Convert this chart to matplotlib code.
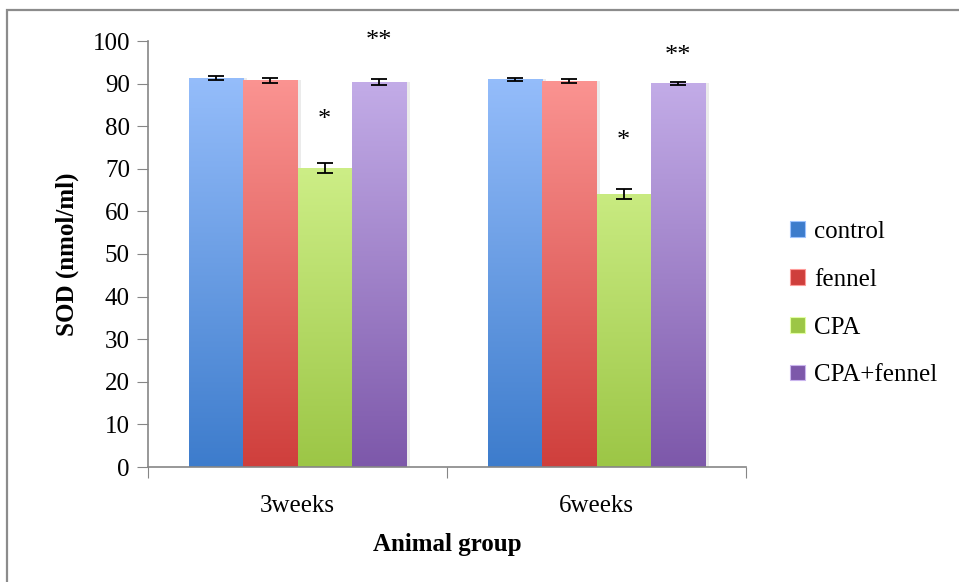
import numpy as np
import matplotlib
matplotlib.use("Agg")
import matplotlib.pyplot as plt
from matplotlib.patches import Rectangle, Patch
from matplotlib.colors import LinearSegmentedColormap

plt.rcParams['font.family'] = ['Liberation Serif', 'DejaVu Serif']

groups = ["3weeks", "6weeks"]
series = ["control", "fennel", "CPA", "CPA+fennel"]
values = {
    "control": [91.3, 91.0],
    "fennel": [90.8, 90.6],
    "CPA": [70.2, 64.1],
    "CPA+fennel": [90.4, 90.1],
}
errors = {
    "control": [0.5, 0.4],
    "fennel": [0.6, 0.5],
    "CPA": [1.2, 1.2],
    "CPA+fennel": [0.7, 0.35],
}
marks = {
    "control": ["", ""],
    "fennel": ["", ""],
    "CPA": ["*", "*"],
    "CPA+fennel": ["**", "**"],
}
mark_y = {
    "CPA": [81.5, 76.5],
    "CPA+fennel": [100.0, 96.5],
}
yticks = list(range(0, 101, 10))

grad = {
    "control": ("#9dc3ff", "#3d7ccc"),
    "fennel": ("#ff9c9a", "#cf3f3c"),
    "CPA": ("#e2ffa2", "#9cc646"),
    "CPA+fennel": ("#cab5ee", "#7d58aa"),
}

fig = plt.figure(figsize=(9.59, 5.82), dpi=100)
ax = fig.add_axes([148/959, 1-467/582, (746-148)/959, (467-41)/582])

# outer frame
fig.patches.append(Rectangle((7/959, -0.2), 1.2, 1.2 - 10/582,
                             transform=fig.transFigure, fill=False,
                             edgecolor="#8c8c8c", lw=1.6, zorder=0))

x = np.arange(len(groups))
width = 0.182
offsets = (np.arange(len(series)) - 1.5) * width
gy = np.linspace(0, 1, 256).reshape(-1, 1)

for i, s in enumerate(series):
    top, bot = grad[s]
    cmap = LinearSegmentedColormap.from_list(s, [bot, top])
    bars = ax.bar(x + offsets[i], values[s], width, facecolor="none",
                  edgecolor="none", zorder=2)
    for b in bars:
        x0, y0 = b.get_x(), b.get_y()
        w, h = b.get_width(), b.get_height()
        ax.add_patch(Rectangle((x0 + w, y0), 0.012, h, color="#000000",
                               alpha=0.08, zorder=1, lw=0))
        im = ax.imshow(gy, cmap=cmap, aspect="auto",
                       extent=(x0, x0 + w, 0, 100), origin="lower",
                       zorder=2, interpolation="bicubic")
        im.set_clip_path(b)
    ax.errorbar(x + offsets[i], values[s], yerr=errors[s], fmt="none",
                ecolor="black", elinewidth=1.3, capsize=6, capthick=1.3,
                zorder=4)
    for j in range(len(groups)):
        if marks[s][j]:
            ax.text(x[j] + offsets[i], mark_y[s][j], marks[s][j],
                    ha="center", va="center", fontsize=19, zorder=5)

ax.set_xlim(-0.5, len(groups) - 0.5)
ax.set_ylim(0, 100)
ax.set_yticks(yticks)
ax.tick_params(axis="y", labelsize=18, length=8, color="#868686", pad=5)
ax.set_xticks(np.arange(len(groups) + 1) - 0.5)
ax.set_xticklabels([])
ax.set_xticks(x, minor=True)
ax.set_xticklabels(groups, minor=True)
ax.tick_params(axis="x", which="major", length=8, color="#868686")
ax.tick_params(axis="x", which="minor", length=0, labelsize=18, pad=20)
for sp in ["top", "right"]:
    ax.spines[sp].set_visible(False)
for sp in ["left", "bottom"]:
    ax.spines[sp].set_color("#868686")
    ax.spines[sp].set_linewidth(1.2)

ax.set_ylabel("SOD (nmol/ml)", fontsize=18, fontweight="bold", labelpad=10)
ax.set_xlabel("Animal group", fontsize=18, fontweight="bold", labelpad=12)

handles = [Patch(facecolor=grad[s][1], edgecolor=grad[s][0], lw=0.8)
           for s in series]
fig.legend(handles, series, loc="upper left",
           bbox_to_anchor=(780/959, 1-211/582), frameon=False,
           fontsize=18, handlelength=0.6, handleheight=0.6,
           handletextpad=0.35, labelspacing=1.03, borderaxespad=0)

fig.savefig("out.png", dpi=100)
